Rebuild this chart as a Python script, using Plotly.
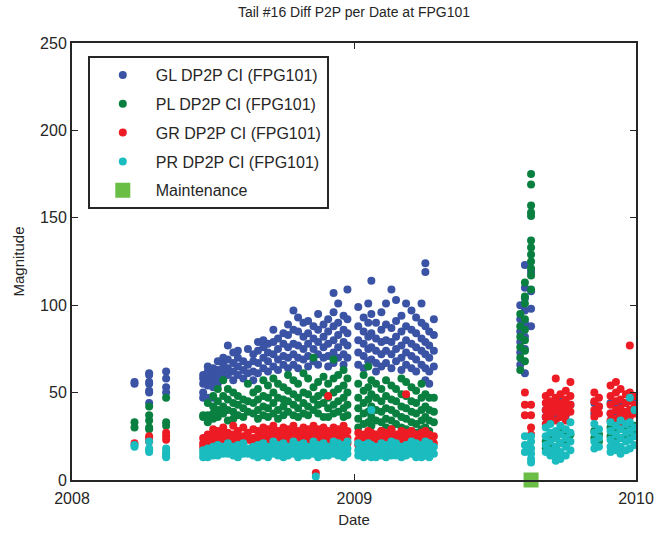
import plotly.graph_objects as go

# values, grouped by flight date
gl_vals = {
    "2008-03-22": [55, 56], "2008-04-10": [61, 60, 56, 55, 51, 50, 44], "2008-05-02": [62, 58, 53, 50],
    "2008-06-19": [58, 55, 50, 47, 60], "2008-06-25": [65, 62, 58, 54, 47], "2008-07-02": [64, 60, 57, 53, 47],
    "2008-07-08": [68, 63, 59, 55], "2008-07-15": [70, 66, 62, 58], "2008-07-21": [77, 69, 64, 60],
    "2008-07-28": [73, 67, 62, 57], "2008-08-03": [74, 70, 65, 60], "2008-08-10": [68, 63, 58],
    "2008-08-16": [75, 66, 61], "2008-08-23": [72, 68, 62, 57], "2008-08-29": [79, 74, 67, 61],
    "2008-09-05": [80, 76, 70, 64], "2008-09-11": [78, 73, 68, 62], "2008-09-18": [86, 79, 72, 65],
    "2008-09-24": [81, 75, 69, 63], "2008-10-01": [84, 78, 71, 66], "2008-10-07": [89, 83, 76, 70, 64],
    "2008-10-14": [97, 86, 78, 72, 66], "2008-10-20": [93, 85, 77, 70, 64], "2008-10-27": [90, 82, 75, 69],
    "2008-11-02": [91, 84, 78, 71, 65], "2008-11-09": [88, 81, 75, 68], "2008-11-15": [95, 86, 79, 72, 66],
    "2008-11-22": [89, 82, 76, 70], "2008-11-28": [92, 85, 78, 71, 65], "2008-12-05": [107, 96, 88, 80, 73, 67],
    "2008-12-11": [101, 90, 83, 76, 70], "2008-12-18": [94, 86, 79, 72, 66], "2008-12-23": [109, 92, 84, 77, 70],
    "2009-01-06": [99, 88, 80, 73, 66], "2009-01-13": [93, 85, 78, 71, 64], "2009-01-19": [101, 90, 82, 75, 68],
    "2009-01-23": [114, 95, 84, 76, 69], "2009-01-29": [90, 81, 74, 67, 62], "2009-02-05": [96, 86, 79, 72, 65],
    "2009-02-11": [101, 89, 80, 74, 67], "2009-02-18": [109, 87, 79, 72, 64], "2009-02-24": [103, 91, 82, 75, 68],
    "2009-03-03": [94, 85, 77, 70, 63], "2009-03-09": [101, 88, 80, 73, 66], "2009-03-16": [97, 86, 78, 71, 64],
    "2009-03-22": [93, 84, 76, 69, 62], "2009-03-29": [101, 90, 81, 74, 66], "2009-04-03": [124, 119, 88, 79, 72, 64, 57],
    "2009-04-08": [85, 77, 70, 62, 55], "2009-04-14": [92, 83, 74, 65],
    "2009-08-04": [100, 92, 85, 79, 73, 66], "2009-08-10": [123, 110, 104, 97, 90, 82, 75, 61],
    "2009-08-18": [119, 108, 98, 88],
    "2009-09-06": [40, 36], "2009-09-12": [44, 38], "2009-09-19": [42, 36], "2009-09-25": [45, 39],
    "2009-10-02": [41, 37], "2009-10-08": [43],
    "2009-11-08": [44, 38], "2009-11-14": [42], "2009-11-29": [44, 38], "2009-12-06": [43, 37],
    "2009-12-12": [45, 39], "2009-12-19": [44, 38], "2009-12-24": [46, 40], "2009-12-30": [47, 41],
}

pl_vals = {
    "2008-03-22": [33, 30], "2008-04-10": [42, 37, 34, 30, 29], "2008-05-02": [47, 33, 31],
    "2008-06-19": [37, 36], "2008-06-25": [44, 37, 33], "2008-07-02": [48, 42, 38, 35],
    "2008-07-08": [52, 45, 40, 36], "2008-07-15": [57, 48, 42, 38], "2008-07-21": [52, 46, 40, 34],
    "2008-07-28": [50, 44, 39, 35], "2008-08-03": [48, 43, 37], "2008-08-10": [46, 41, 36],
    "2008-08-16": [55, 45, 39], "2008-08-23": [50, 44, 38], "2008-08-29": [52, 46, 40, 35],
    "2008-09-05": [57, 48, 42, 37], "2008-09-11": [54, 47, 41, 36], "2008-09-18": [58, 50, 44, 38],
    "2008-09-24": [55, 47, 40, 35], "2008-10-01": [53, 46, 42, 37], "2008-10-07": [60, 51, 45, 39],
    "2008-10-14": [57, 49, 43, 37], "2008-10-20": [55, 47, 41, 36], "2008-10-27": [61, 50, 44, 38],
    "2008-11-02": [58, 49, 42, 37], "2008-11-09": [70, 53, 46, 40], "2008-11-15": [56, 48, 43, 38],
    "2008-11-22": [59, 50, 44, 36], "2008-11-28": [55, 47, 41, 36], "2008-12-05": [69, 58, 50, 43, 38],
    "2008-12-11": [60, 52, 45, 39], "2008-12-18": [63, 54, 47, 41, 36], "2008-12-23": [58, 50, 43, 37],
    "2009-01-06": [55, 47, 41, 35, 30], "2009-01-13": [60, 51, 44, 38, 32], "2009-01-19": [65, 53, 46, 39, 33],
    "2009-01-23": [57, 49, 42, 36, 31], "2009-01-29": [55, 47, 40, 34], "2009-02-05": [52, 45, 39, 33, 28],
    "2009-02-11": [57, 48, 41, 35, 30], "2009-02-18": [54, 46, 40, 34, 29], "2009-02-24": [52, 45, 38, 32],
    "2009-03-03": [58, 49, 42, 36, 30], "2009-03-09": [56, 48, 41, 35, 29], "2009-03-16": [53, 45, 39, 33, 28],
    "2009-03-22": [51, 44, 38, 32, 27], "2009-03-29": [55, 47, 40, 34, 29], "2009-04-03": [49, 42, 36, 30],
    "2009-04-08": [47, 40, 34, 28], "2009-04-14": [47, 39, 33],
    "2009-08-04": [95, 88, 82, 76, 70, 63], "2009-08-10": [113, 105, 101, 92, 86, 80, 74, 68],
    "2009-08-18": [175, 169, 157, 153, 151, 137, 133, 129, 125, 121, 117, 109],
    "2009-09-06": [22, 18], "2009-09-12": [26, 20], "2009-09-19": [24, 19], "2009-09-25": [27, 21],
    "2009-10-02": [25, 20], "2009-10-08": [26],
    "2009-11-08": [28, 24], "2009-11-14": [26, 22], "2009-11-29": [30, 25], "2009-12-06": [28, 23],
    "2009-12-12": [30, 24], "2009-12-19": [29, 23], "2009-12-24": [30, 25], "2009-12-30": [31, 26],
}

gr_vals = {
    "2008-03-22": [21], "2008-04-10": [24, 25, 22], "2008-05-02": [27, 23, 25],
    "2008-06-19": [24, 21, 19], "2008-06-25": [26, 23, 20], "2008-07-02": [29, 25, 22],
    "2008-07-08": [28, 24, 21], "2008-07-15": [30, 26, 23], "2008-07-21": [27, 25, 22],
    "2008-07-28": [31, 26, 23], "2008-08-03": [28, 24, 21], "2008-08-10": [30, 25, 22],
    "2008-08-16": [27, 23], "2008-08-23": [29, 24, 21], "2008-08-29": [28, 25, 22],
    "2008-09-05": [30, 26, 22], "2008-09-11": [29, 25, 21], "2008-09-18": [31, 27, 23],
    "2008-09-24": [28, 24, 21], "2008-10-01": [30, 26, 22], "2008-10-07": [29, 25, 22],
    "2008-10-14": [31, 27, 23], "2008-10-20": [28, 24, 21], "2008-10-27": [30, 26, 22],
    "2008-11-02": [29, 25, 21], "2008-11-09": [31, 27, 23], "2008-11-12": [4], "2008-11-15": [29, 25, 22],
    "2008-11-22": [30, 26, 22], "2008-11-28": [48, 28, 24, 21], "2008-12-05": [30, 26, 23],
    "2008-12-11": [29, 25, 22], "2008-12-18": [31, 27, 23], "2008-12-23": [28, 24, 21],
    "2009-01-06": [27, 23, 20], "2009-01-13": [26, 22, 19], "2009-01-19": [28, 24, 20],
    "2009-01-23": [27, 23, 20], "2009-01-29": [26, 22, 19], "2009-02-05": [28, 24, 21],
    "2009-02-11": [27, 23, 20], "2009-02-18": [29, 25, 21], "2009-02-24": [26, 22, 19],
    "2009-03-03": [28, 24, 20], "2009-03-09": [49, 27, 23, 20], "2009-03-16": [28, 24, 21],
    "2009-03-22": [26, 22, 19], "2009-03-29": [27, 23, 20], "2009-04-03": [28, 24, 21],
    "2009-04-08": [26, 22, 19], "2009-04-14": [25, 21],
    "2009-08-10": [50, 43, 37], "2009-08-18": [43, 37, 30, 26],
    "2009-09-06": [48, 44, 40, 36, 32], "2009-09-12": [50, 45, 41, 37, 33], "2009-09-19": [58, 47, 43, 39, 34],
    "2009-09-25": [49, 44, 40, 36], "2009-10-02": [51, 46, 42, 38, 34], "2009-10-08": [56, 48, 43, 39],
    "2009-11-08": [50, 45, 40, 36], "2009-11-14": [47, 42, 38], "2009-11-29": [54, 48, 43, 38, 34],
    "2009-12-06": [56, 50, 45, 40, 35], "2009-12-12": [52, 46, 41, 37, 32], "2009-12-19": [49, 44, 39, 35],
    "2009-12-24": [77, 50, 45, 40, 36], "2009-12-30": [48, 43, 38],
}

pr_vals = {
    "2008-03-22": [20, 19], "2008-04-10": [22, 18, 17, 16], "2008-05-02": [18, 16, 15, 14, 13],
    "2008-06-19": [17, 15, 13], "2008-06-25": [18, 16, 13], "2008-07-02": [19, 17, 14],
    "2008-07-08": [20, 16, 14], "2008-07-15": [19, 17, 15], "2008-07-21": [21, 18, 15],
    "2008-07-28": [19, 17, 14], "2008-08-03": [20, 16, 13], "2008-08-10": [21, 17, 15],
    "2008-08-16": [18, 15], "2008-08-23": [19, 16, 14], "2008-08-29": [20, 17, 13],
    "2008-09-05": [21, 17, 14], "2008-09-11": [19, 16, 13], "2008-09-18": [22, 18, 15],
    "2008-09-24": [20, 16, 14], "2008-10-01": [21, 17, 13], "2008-10-07": [19, 16, 14],
    "2008-10-14": [22, 18, 15], "2008-10-20": [20, 17, 13], "2008-10-27": [21, 17, 14],
    "2008-11-02": [19, 16, 14], "2008-11-09": [22, 18, 15], "2008-11-12": [2], "2008-11-15": [20, 17, 13],
    "2008-11-22": [21, 18, 14], "2008-11-28": [19, 16, 14], "2008-12-05": [22, 18, 15],
    "2008-12-11": [21, 17, 14], "2008-12-18": [20, 16, 13], "2008-12-23": [22, 18, 15],
    "2009-01-06": [21, 17, 14], "2009-01-13": [20, 16, 13], "2009-01-19": [21, 18, 14],
    "2009-01-23": [40, 20, 16, 13], "2009-01-29": [19, 16, 13], "2009-02-05": [21, 17, 14],
    "2009-02-11": [20, 16, 13], "2009-02-18": [22, 18, 14], "2009-02-24": [21, 17, 14],
    "2009-03-03": [19, 16, 13], "2009-03-09": [20, 17, 14], "2009-03-16": [22, 18, 15],
    "2009-03-22": [21, 17, 13], "2009-03-29": [20, 16, 13], "2009-04-03": [22, 18, 14],
    "2009-04-08": [21, 17, 13], "2009-04-14": [19, 15],
    "2009-08-10": [25, 20, 16], "2009-08-18": [25, 22, 18, 15, 12, 10],
    "2009-09-06": [30, 25, 20, 16], "2009-09-12": [32, 27, 22, 17, 14], "2009-09-19": [28, 24, 19, 15, 11],
    "2009-09-25": [31, 26, 21, 16, 12], "2009-10-02": [29, 24, 19, 14], "2009-10-08": [33, 27, 22, 17],
    "2009-11-08": [32, 27, 22, 18], "2009-11-14": [29, 24, 19], "2009-11-29": [33, 28, 23, 19, 16],
    "2009-12-06": [31, 26, 21, 17], "2009-12-12": [34, 29, 24, 19, 15], "2009-12-19": [32, 27, 22, 17],
    "2009-12-24": [47, 33, 28, 23, 18], "2009-12-30": [40, 30, 25, 20],
}

maint_dates = ["2009-08-18"]
maint_vals = [0]

series = [
    ("GL DP2P CI (FPG101)", gl_vals, "#3A53A4"),
    ("PL DP2P CI (FPG101)", pl_vals, "#0A8040"),
    ("GR DP2P CI (FPG101)", gr_vals, "#ED1C24"),
    ("PR DP2P CI (FPG101)", pr_vals, "#1BBCBF"),
]

FONT = "Liberation Sans Narrow, Arial Narrow, Liberation Sans, Arial, sans-serif"

fig = go.Figure()
for i, (name, vals, color) in enumerate(series):
    xs, ys = [], []
    for d, col in vals.items():
        xs += [d] * len(col)
        ys += col
    fig.add_trace(go.Scatter(x=xs, y=ys, mode="markers", name=name, legendgroup=str(i),
                             marker=dict(color=color, size=8, line=dict(width=0))))

fig.add_trace(go.Scatter(x=maint_dates, y=maint_vals, mode="markers", name="Maintenance",
                         legendgroup="m", cliponaxis=False,
                         marker=dict(color="#6BBE45", size=15, symbol="square", line=dict(width=0))))

axis_common = dict(showline=True, linecolor="#262626", linewidth=2, mirror="ticks",
                   ticks="inside", ticklen=6, tickcolor="#262626", tickwidth=1,
                   showgrid=False, zeroline=False, automargin=False,
                   tickfont=dict(family=FONT, size=16, color="#262626"))

fig.update_layout(
    width=657, height=533,
    margin=dict(l=72, r=21, t=43, b=53),
    paper_bgcolor="white", plot_bgcolor="white",
    font=dict(family=FONT, color="#262626"),
    title=dict(text="Tail #16 Diff P2P per Date at FPG101", x=0.5, xref="paper",
               y=1 - 12 / 533, yref="container", yanchor="middle",
               font=dict(family=FONT, size=14, color="#262626")),
    xaxis=dict(type="date", range=["2008-01-01", "2010-01-01"],
               tickvals=["2008-01-01", "2009-01-01", "2010-01-01"], ticktext=["2008", "2009", "2010"],
               ticklabelstandoff=3,
               title=dict(text="Date", standoff=8, font=dict(family=FONT, size=15)), **axis_common),
    yaxis=dict(range=[0, 250], tickvals=[0, 50, 100, 150, 200, 250],
               title=dict(text="Magnitude", standoff=12, font=dict(family=FONT, size=15)), **axis_common),
    showlegend=True,
    legend=dict(x=0.028, y=0.97, xanchor="left", yanchor="top",
                bgcolor="white", bordercolor="#262626", borderwidth=2,
                font=dict(family=FONT, size=16, color="#262626"),
                traceorder="grouped", tracegroupgap=5, itemwidth=56, itemsizing="trace"),
)

# the page is shot at the window size, so drop the default body margin
fig.write_html("out.html", config={"displayModeBar": False},
               post_script="document.body.style.margin='0';")
